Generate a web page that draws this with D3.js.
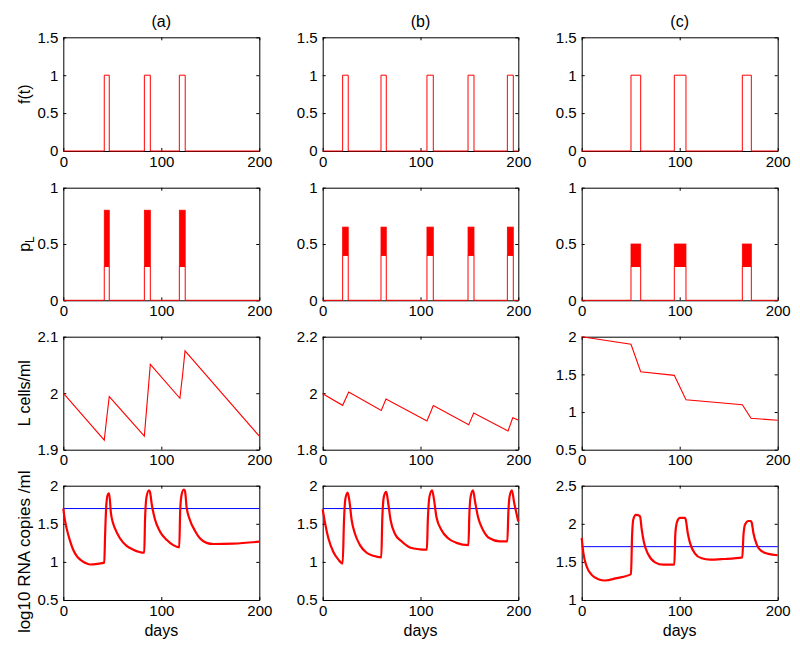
<!DOCTYPE html>
<html>
<head>
<meta charset="utf-8">
<script src="https://cdn.jsdelivr.net/npm/d3@7"></script>
<style>
  html, body { margin: 0; padding: 0; background: #fff; }
  svg { display: block; font-family: "Liberation Sans", Arial, Helvetica, sans-serif; }
</style>
</head>
<body>
<svg id="chart" width="800" height="651"></svg>
<script>
// ---------------- DATA ----------------
const columnTitles = ["(a)", "(b)", "(c)"];
const rowLabels = ["f(t)", "p_L", "L cells/ml", "log10 RNA copies /ml"];
const xTicks = [0, 100, 200];
const xDomain = [0, 200];

// treatment pulses [start, end] (days)
const pulsesA = [[41.8, 46.9], [82.7, 88.8], [118.4, 124.4]];
const pulsesB = [[20.4, 26.1], [59.6, 65.0], [106.6, 113.1], [148.6, 154.7], [188.8, 194.9]];
const pulsesC = [[50.3, 60.2], [94.5, 106.4], [163.9, 173.1]];

// p oscillation band during pulses [low, high]
const pBandA = [0.3, 0.8];
const pBandB = [0.4, 0.65];
const pBandC = [0.3, 0.5];

// latent cells (t, value)
const latentA = [[0, 2.0], [41.8, 1.917], [44.3, 1.956], [46.9, 1.994], [82.7, 1.924], [88.8, 2.051],
  [119.0, 1.991], [121.0, 2.022], [121.6, 2.030], [124.2, 2.075], [200, 1.924]];
const latentB = [[0, 1.998], [20.4, 1.957], [26.6, 2.004], [59.9, 1.939], [64.7, 1.979], [106.6, 1.902],
  [113.1, 1.956], [149.3, 1.888], [154.4, 1.930], [189.5, 1.866], [194.3, 1.913], [200, 1.905]];
const latentC = [[0, 2.0], [50.3, 1.899], [60.2, 1.535], [94.5, 1.487], [106.4, 1.163], [163.9, 1.097],
  [172.8, 0.917], [200, 0.89]];

// viral load log10 (t, value)
const viralA = [[0, 1.70], [1, 1.60], [3.4, 1.44], [6.8, 1.28], [10.2, 1.156], [13.6, 1.08], [17, 1.034],
  [22, 0.99], [27.2, 0.966], [35, 0.975], [41.8, 0.99], [42.6, 1.33], [44, 1.77], [45.6, 1.89], [46.8, 1.90],
  [48.6, 1.64], [50.5, 1.52], [52.7, 1.44], [57.8, 1.31], [64.6, 1.21], [71.4, 1.16], [82.6, 1.12],
  [83.4, 1.55], [85, 1.86], [87.5, 1.94], [88.6, 1.91], [90.1, 1.77], [93.5, 1.56], [98.6, 1.40],
  [105.4, 1.29], [112.2, 1.22], [118.3, 1.19], [119.3, 1.68], [120.7, 1.88], [123, 1.95], [124.2, 1.93],
  [125.8, 1.72], [129.2, 1.55], [134.3, 1.41], [139.4, 1.31], [146.2, 1.25], [153, 1.235], [173.4, 1.24],
  [200, 1.265]];
const viralB = [[0, 1.69], [2.4, 1.51], [5.8, 1.31], [10.9, 1.13], [16, 1.03], [20.4, 0.98], [21.8, 1.55],
  [23.1, 1.82], [25.5, 1.91], [27.2, 1.81], [29.6, 1.55], [33, 1.37], [38.1, 1.22], [44.9, 1.12], [51.7, 1.08],
  [59.9, 1.06], [60.9, 1.55], [62.6, 1.86], [65, 1.92], [67, 1.77], [69.4, 1.55], [73.8, 1.37], [80.6, 1.27],
  [89.1, 1.19], [99.3, 1.165], [106.5, 1.16], [107.5, 1.55], [109.2, 1.86], [111.9, 1.94], [113.9, 1.81],
  [116.3, 1.59], [121.4, 1.42], [128.2, 1.31], [136.7, 1.25], [149, 1.22], [150, 1.64], [151.3, 1.86],
  [153.7, 1.94], [155.8, 1.79], [158.8, 1.59], [163.9, 1.42], [170.7, 1.31], [180.9, 1.27], [188.8, 1.27],
  [189.8, 1.64], [191.1, 1.86], [193.5, 1.94], [195.6, 1.79], [200, 1.53]];
const viralC = [[0, 1.816], [1.7, 1.618], [5.1, 1.44], [10.2, 1.33], [17, 1.273], [23.8, 1.256], [35.7, 1.287],
  [50.3, 1.34], [51.4, 1.84], [52.7, 2.06], [55.4, 2.116], [59.5, 2.10], [61.2, 1.93], [63.6, 1.75], [68, 1.596],
  [74.8, 1.494], [83.3, 1.463], [94.5, 1.463], [95.6, 1.88], [97.6, 2.037], [100.3, 2.077], [105.4, 2.077],
  [106.1, 2.06], [108.2, 1.88], [110.5, 1.75], [115.6, 1.61], [122.4, 1.547], [130.9, 1.53], [144.5, 1.538],
  [163.9, 1.56], [165, 1.84], [166.7, 1.99], [170.1, 2.037], [172.4, 2.037], [173.5, 2.015], [175.2, 1.88],
  [178.6, 1.728], [183.7, 1.64], [190.5, 1.605], [200, 1.587]];
const threshold = 1.7;

// y axes per row/column
const yDomains = [
  [[0, 1.5], [0, 1.5], [0, 1.5]],
  [[0, 1], [0, 1], [0, 1]],
  [[1.9, 2.1], [1.8, 2.2], [0.5, 2]],
  [[0.5, 2], [0.5, 2], [1, 2.5]]
];
const yTicks = [
  [[0, 0.5, 1, 1.5], [0, 0.5, 1, 1.5], [0, 0.5, 1, 1.5]],
  [[0, 0.5, 1], [0, 0.5, 1], [0, 0.5, 1]],
  [[1.9, 2, 2.1], [1.8, 2, 2.2], [0.5, 1, 1.5, 2]],
  [[0.5, 1, 1.5, 2], [0.5, 1, 1.5, 2], [1, 1.5, 2, 2.5]]
];

const pulses = [pulsesA, pulsesB, pulsesC];
const pBands = [pBandA, pBandB, pBandC];
const latents = [latentA, latentB, latentC];
const virals = [viralA, viralB, viralC];

// ---------------- LAYOUT ----------------
const colX = [63.3, 322.7, 581.7];
const colW = [196, 195.6, 196];
const rowY = [37.3, 187.7, 336.7, 485.7];
const rowH = [113.7, 112.6, 113, 114.3];
const FS = 15;
const RED = "#ff0000";

const svg = d3.select("#chart");

function stepPath(pl, level) {
  const pts = [[xDomain[0], 0]];
  pl.forEach(([s, e]) => { pts.push([s, 0], [s, level], [e, level], [e, 0]); });
  pts.push([xDomain[1], 0]);
  return pts;
}

for (let r = 0; r < 4; r++) {
  for (let c = 0; c < 3; c++) {
    const g = svg.append("g").attr("transform", `translate(${colX[c]},${rowY[r]})`);
    const w = colW[c], h = rowH[r];
    const x = d3.scaleLinear().domain(xDomain).range([0, w]);
    const y = d3.scaleLinear().domain(yDomains[r][c]).range([h, 0]);
    const fmt = d => String(d);

    const styleAxis = sel => {
      sel.selectAll("path.domain").attr("stroke", "#000").attr("stroke-width", 1);
      sel.selectAll(".tick line").attr("stroke", "#000").attr("stroke-width", 1);
      sel.selectAll("text").attr("font-size", FS).attr("fill", "#000")
        .attr("font-family", '"Liberation Sans", Arial, Helvetica, sans-serif');
    };
    g.append("g").attr("transform", `translate(0,${h})`)
      .call(d3.axisBottom(x).tickValues(xTicks).tickFormat(fmt).tickSize(-3).tickSizeOuter(0).tickPadding(5))
      .call(styleAxis);
    g.append("g")
      .call(d3.axisTop(x).tickValues(xTicks).tickFormat("").tickSize(-3).tickSizeOuter(0))
      .call(styleAxis);
    g.append("g")
      .call(d3.axisLeft(y).tickValues(yTicks[r][c]).tickFormat(fmt).tickSize(-3).tickSizeOuter(0).tickPadding(5))
      .call(styleAxis);
    g.append("g").attr("transform", `translate(${w},0)`)
      .call(d3.axisRight(y).tickValues(yTicks[r][c]).tickFormat("").tickSize(-3).tickSizeOuter(0))
      .call(styleAxis);

    const line = d3.line().x(d => x(d[0])).y(d => y(d[1]));

    if (r === 0) {
      g.append("path").datum(stepPath(pulses[c], 1))
        .attr("d", line).attr("fill", "none").attr("stroke", RED).attr("stroke-width", 1);
    } else if (r === 1) {
      const [lo, hi] = pBands[c];
      g.selectAll("rect.band").data(pulses[c]).enter().append("rect")
        .attr("x", d => x(d[0])).attr("width", d => x(d[1]) - x(d[0]))
        .attr("y", y(hi)).attr("height", y(lo) - y(hi))
        .attr("fill", RED).attr("stroke", RED).attr("stroke-width", 0.8);
      g.append("path").datum(stepPath(pulses[c], lo))
        .attr("d", line).attr("fill", "none").attr("stroke", RED).attr("stroke-width", 1);
    } else if (r === 2) {
      g.append("path").datum(latents[c])
        .attr("d", line).attr("fill", "none").attr("stroke", RED).attr("stroke-width", 1.1);
    } else {
      g.append("path").datum(xDomain.map(t => [t, threshold]))
        .attr("d", line).attr("fill", "none").attr("stroke", "#0000ff").attr("stroke-width", 1);
      g.append("path").datum(virals[c])
        .attr("d", line.curve(d3.curveMonotoneX)).attr("fill", "none").attr("stroke", RED)
        .attr("stroke-width", 2.2).attr("stroke-linejoin", "round");
    }

    if (r === 0) {
      g.append("text").attr("x", w / 2).attr("y", -10).attr("text-anchor", "middle")
        .attr("font-size", FS + 1).text(columnTitles[c]);
    }
    if (r === 3) {
      g.append("text").attr("x", w / 2).attr("y", h + 36).attr("text-anchor", "middle")
        .attr("font-size", FS + 1).text("days");
    }
    if (c === 0) {
      if (r === 3) {
        g.append("text")
          .attr("transform", `translate(${-33},${h / 2 + 9}) rotate(-90)`)
          .attr("text-anchor", "middle").attr("font-size", FS + 2).text(rowLabels[r]);
      } else {
        const lab = g.append("text")
          .attr("transform", `translate(${-33},${h / 2}) rotate(-90)`)
          .attr("text-anchor", "middle").attr("font-size", FS + 1);
        if (r === 1) {
          lab.append("tspan").text("p");
          lab.append("tspan").attr("font-size", FS - 3).attr("dy", 4).text("L");
        } else {
          lab.text(rowLabels[r]);
        }
      }
    }
  }
}
</script>
</body>
</html>
